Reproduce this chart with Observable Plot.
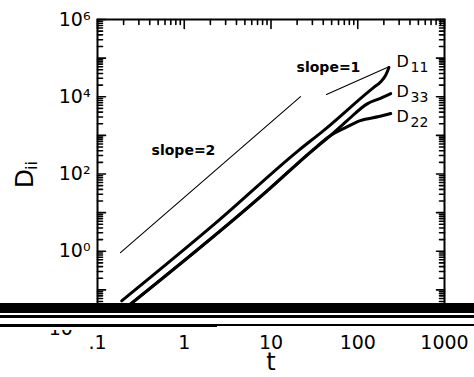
<!DOCTYPE html>
<html><head><meta charset="utf-8">
<script src="https://cdn.jsdelivr.net/npm/d3@7"></script>
<script src="https://cdn.jsdelivr.net/npm/@observablehq/plot@0.6"></script>
<style>
html,body{margin:0;padding:0;background:#fff;}
#wrap{position:relative;width:474px;height:377px;overflow:hidden;background:#fff;}
#wrap svg{display:block;}
.band{position:absolute;}
</style></head><body>
<div id="wrap"></div>
<script>
// ---- data ----
const tD11 = [0.19, 2.48, 20.7, 40.3, 152, 183, 209, 229];
const vD11 = [0.052, 6.2, 404, 1330, 17300, 24000, 35400, 57000];
const tD33 = [0.19, 9.1, 29.9, 48.5, 75.5, 128.5, 183, 240];
const vD33 = [0.028, 37, 404, 990, 2415, 6550, 9140, 12100];
const tD22 = [0.19, 9.1, 29.9, 48.5, 72.3, 107, 176, 240];
const vD22 = [0.028, 37, 404, 990, 1590, 2415, 3070, 3670];
const tSlope2 = [0.184, 21.9];
const vSlope2 = [0.92, 10100];
const tSlope1 = [43.6, 232];
const vSlope1 = [11400, 60500];
const xTickValues = [0.1, 1, 10, 100, 1000];
const xTickLabels = [".1", "1", "10", "100", "1000"];
const yTickValues = [1e-2, 1e0, 1e2, 1e4, 1e6];
const yTickLabels = ["10\u207B\u00B2", "10\u2070", "10\u00B2", "10\u2074", "10\u2076"];
const curveSubscripts = ["11", "33", "22"];
const curveLabelT = [280, 280, 280];
const curveLabelD = [81700, 13600, 3070];
const slopeLabels = ["slope=2", "slope=1"];
const slopeLabelT = [0.98, 46];
const slopeLabelD = [404, 57000];

// ---- layout ----
const W = 474, H = 377, mL = 97, mR = 30, mT = 19, mB = 49;
const xDom = [0.1, 1000], yDom = [1e-2, 1e6];
const pw = W - mL - mR, ph = H - mT - mB;
const pxPerDecX = pw / Math.log10(xDom[1] / xDom[0]);
const pxPerDecY = ph / Math.log10(yDom[1] / yDom[0]);
const fx = L => Math.pow(10, L / pxPerDecX);   // factor for L px along x
const fy = L => Math.pow(10, L / pxPerDecY);   // factor for L px along y

const rows = (ts, vs) => ts.map((t, i) => ({t, v: vs[i]}));
const isDecade = d => Math.abs(Math.log10(d) - Math.round(Math.log10(d))) < 1e-9;
const xAll = d3.scaleLog().domain(xDom).ticks();
const yAll = d3.scaleLog().domain(yDom).ticks();

// inward tick segments (two end points per tick, grouped by id)
const tickSegs = [];
xAll.forEach((d, i) => {
  const L = isDecade(d) ? 9 : 5;
  tickSegs.push({id: "x" + i, t: d, v: yDom[1]}, {id: "x" + i, t: d, v: yDom[1] / fy(L)});
});
yAll.forEach((d, i) => {
  const L = isDecade(d) ? 8 : 5;
  tickSegs.push({id: "l" + i, t: xDom[0], v: d}, {id: "l" + i, t: xDom[0] * fx(L), v: d});
  tickSegs.push({id: "r" + i, t: xDom[1], v: d}, {id: "r" + i, t: xDom[1] / fx(L), v: d});
});

const chart = Plot.plot({
  width: W, height: H,
  marginLeft: mL, marginRight: mR, marginTop: mT, marginBottom: mB,
  x: {type: "log", domain: xDom, axis: null},
  y: {type: "log", domain: yDom, axis: null},
  style: {fontFamily: "DejaVu Sans", background: "white", color: "black"},
  marks: [
    Plot.frame({stroke: "black", strokeWidth: 2}),
    // tick labels
    Plot.text(yTickValues, {y: d => d, frameAnchor: "left", text: (d, i) => yTickLabels[i],
      textAnchor: "end", dx: -7, fontSize: 19, lineAnchor: "middle", fill: "black"}),
    Plot.text(xTickValues, {x: d => d, frameAnchor: "bottom", text: (d, i) => xTickLabels[i],
      dy: 14, fontSize: 19, lineAnchor: "middle", fill: "black"}),
    // axis titles
    Plot.text(["t"], {frameAnchor: "bottom", text: d => d, dy: 34, fontSize: 24,
      lineAnchor: "middle", fill: "black"}),
    Plot.text(["D"], {frameAnchor: "top-left", text: d => d, dx: -73, dy: 159, rotate: -90,
      fontSize: 25, lineAnchor: "middle", textAnchor: "middle", fill: "black"}),
    Plot.text(["ii"], {frameAnchor: "top-left", text: d => d, dx: -65.5, dy: 146, rotate: -90,
      fontSize: 16, lineAnchor: "middle", textAnchor: "middle", fill: "black"}),
    // reference slopes
    Plot.line(rows(tSlope2, vSlope2), {x: "t", y: "v", stroke: "black", strokeWidth: 1.1}),
    Plot.line(rows(tSlope1, vSlope1), {x: "t", y: "v", stroke: "black", strokeWidth: 1.1}),
    Plot.text(slopeLabels, {x: slopeLabelT, y: slopeLabelD, text: d => d,
      fontSize: 14, fontWeight: "bold", lineAnchor: "middle", fill: "black"}),
    // data curves
    Plot.line(rows(tD11, vD11), {x: "t", y: "v", stroke: "black", strokeWidth: 3, curve: "monotone-x"}),
    Plot.line(rows(tD33, vD33), {x: "t", y: "v", stroke: "black", strokeWidth: 3, curve: "monotone-x"}),
    Plot.line(rows(tD22, vD22), {x: "t", y: "v", stroke: "black", strokeWidth: 3, curve: "monotone-x"}),
    // curve labels
    Plot.text(curveSubscripts, {x: curveLabelT, y: curveLabelD, text: () => "D",
      textAnchor: "start", fontSize: 16, lineAnchor: "middle", fill: "black"}),
    Plot.text(curveSubscripts, {x: curveLabelT, y: curveLabelD, text: d => d,
      textAnchor: "start", dx: 14, dy: 6, fontSize: 14, lineAnchor: "middle", fill: "black"}),
    // inward ticks
    Plot.line(tickSegs, {x: "t", y: "v", z: "id", stroke: "black", strokeWidth: 1.6})
  ]
});

const wrap = document.getElementById("wrap");
wrap.appendChild(chart);

// scan artefact bands across the bottom of the figure
const bands = [
  {top: 303, h: 27, left: 0, w: 474, c: "#fff"},
  {top: 303, h: 10, left: 0, w: 474, c: "#000"},
  {top: 314.5, h: 3, left: 0, w: 474, c: "#000"},
  {top: 323.5, h: 3, left: 0, w: 217, c: "#000"},
  {top: 324, h: 2, left: 217, w: 257, c: "#000"}
];
for (const b of bands) {
  const d = document.createElement("div");
  d.className = "band";
  d.style.top = b.top + "px"; d.style.height = b.h + "px";
  d.style.left = b.left + "px"; d.style.width = b.w + "px";
  d.style.background = b.c;
  wrap.appendChild(d);
}
</script>
</body></html>
